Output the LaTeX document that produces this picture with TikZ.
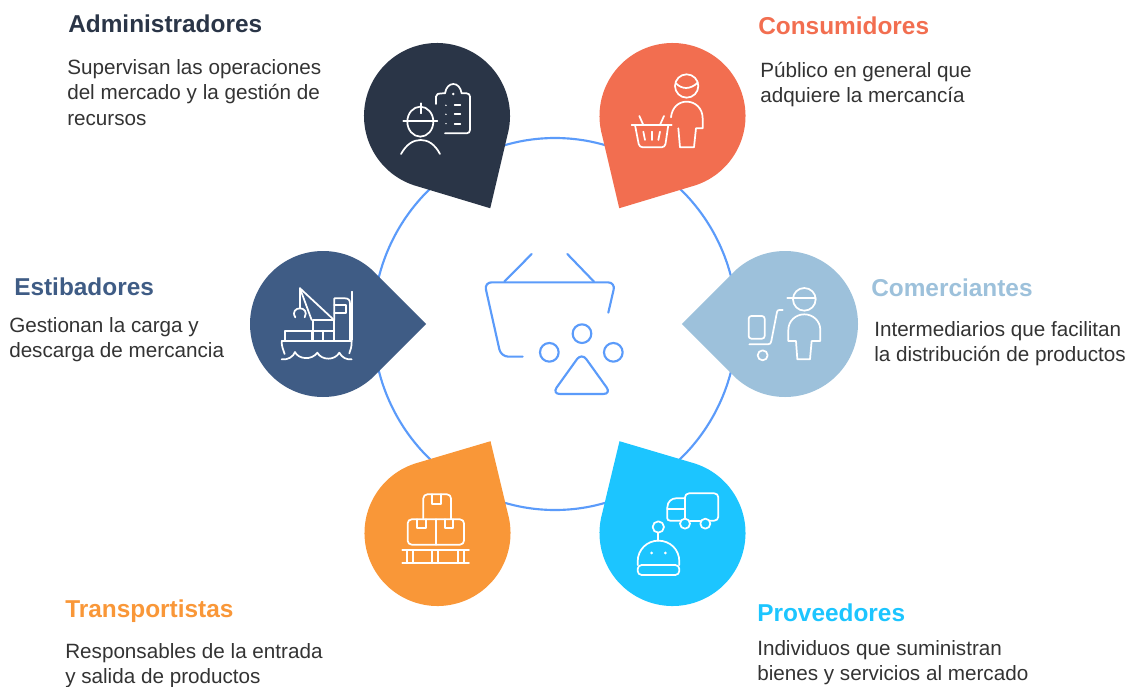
\documentclass[tikz,border=0pt]{standalone}
\usepackage{fontspec}
\setmainfont{Liberation Sans}
\usepackage{tikz}
\usetikzlibrary{calc}
\definecolor{admincol}{HTML}{2A3547}
\definecolor{conscol}{HTML}{F26E50}
\definecolor{estibcol}{HTML}{3F5C85}
\definecolor{comercol}{HTML}{9DC1DB}
\definecolor{transcol}{HTML}{F99738}
\definecolor{provcol}{HTML}{1CC5FF}
\definecolor{ringcol}{HTML}{5B9BFA}
\tikzstyle{heading} = [anchor=base west, inner sep=0pt, font=\fontsize{18.3}{22}\selectfont\bfseries]
\tikzstyle{blurb} = [anchor=north west, inner sep=0pt, align=left, text=black!80, font=\fontsize{15.5}{19.1}\selectfont]
\tikzstyle{glyph} = [draw=white, line width=1.3pt, line cap=round, line join=round]
\tikzstyle{hubline} = [draw=ringcol, line width=1.6pt, line cap=round, line join=round]
\newcommand{\droppin}[4]{\fill [#3] ($(#1)+(#2:#4)$) -- ($(#1)+(#2+45:73)$) arc [start angle=#2+45, delta angle=270, radius=73] -- cycle;}

\begin{document}
\begin{tikzpicture}[x=0.75pt, y=-0.75pt]
    \useasboundingbox (0,0) rectangle (1129,686);

    \coordinate (hub) at (555,324);
    \coordinate (admin) at (437,116);
    \coordinate (cons) at (672.5,116);
    \coordinate (estib) at (323,324);
    \coordinate (comer) at (785,324);
    \coordinate (trans) at (437.5,533);
    \coordinate (prov) at (672.5,533);

    \draw [hubline] (hub) ellipse [x radius=182, y radius=186];

    \droppin{admin}{60}{admincol}{106.5}
    \droppin{cons}{120}{conscol}{106.5}
    \droppin{estib}{0}{estibcol}{103.2}
    \droppin{comer}{180}{comercol}{103.2}
    \droppin{trans}{-60}{transcol}{106}
    \droppin{prov}{-120}{provcol}{106}

    \begin{scope}[shift={(470,240)}, scale=0.3333]
        \draw [hubline, rounded corners=5.5pt] (158,350) -- (93,350) -- (43,127) -- (436,127) -- (415,218);
        \draw [hubline] (103,125) -- (185,42);
        \draw [hubline] (372,125) -- (292,42);
        \draw [hubline] (336,281) circle (28);
        \draw [hubline] (238,337) circle (28);
        \draw [hubline] (430,337) circle (28);
        \draw [hubline, rounded corners=6pt] (335,338) -- (424,462) -- (246,462) -- cycle;
    \end{scope}

    \begin{scope}[shift={(350,30)}, scale=0.3333]
        \draw [glyph] (211,275) ellipse [x radius=39, y radius=45];
        \draw [glyph] (160,274) -- (262,274);
        \draw [glyph] (212,220) -- (212,250);
        \draw [glyph] (153,372) .. controls (170,342) and (190,330) .. (212,330) .. controls (234,330) and (254,342) .. (270,372);
        \draw [glyph] (258,222) -- (258,200) .. controls (258,192) and (262,190) .. (285,190) .. controls (288,172) and (298,162) .. (310,162) .. controls (322,162) and (332,172) .. (335,190) -- (350,190) .. controls (356,190) and (360,194) .. (360,200) -- (360,300) .. controls (360,306) and (356,310) .. (350,310) -- (285,310);
        \fill [white] (310,192) circle (4);
        \foreach \rowy in {226,253,281} {
            \fill [white] (288,\rowy) circle (2.5);
            \draw [glyph] (314,\rowy) -- (331,\rowy);
        }
    \end{scope}

    \begin{scope}[shift={(590,30)}, scale=0.3333]
        \draw [glyph] (290,168) circle (35);
        \draw [glyph] (258,160) .. controls (275,178) and (300,180) .. (323,158);
        \draw [glyph] (243,262) .. controls (246,232) and (266,215) .. (290,215) .. controls (316,215) and (338,235) .. (338,265) -- (338,295) -- (318,295) -- (312,352) -- (270,352) -- (265,295);
        \draw [glyph] (125,285) -- (245,285);
        \draw [glyph, rounded corners=2.5pt] (135,285) -- (148,352) -- (225,352) -- (235,285);
        \draw [glyph] (148,258) -- (160,285);
        \draw [glyph] (222,258) -- (210,285);
        \draw [glyph] (160,305) -- (165,330);
        \draw [glyph] (185,305) -- (185,330);
        \draw [glyph] (210,305) -- (205,330);
    \end{scope}

    \begin{scope}[shift={(240,240)}, scale=0.3333]
        \draw [glyph] (125,358) .. controls (145,360) and (160,350) .. (165,336) .. controls (175,358) and (215,362) .. (232,338) .. controls (245,362) and (285,362) .. (298,338) .. controls (305,352) and (320,360) .. (335,358);
        \draw [glyph] (125,305) .. controls (125,320) and (130,330) .. (134,342);
        \draw [glyph] (335,305) .. controls (335,320) and (332,330) .. (328,340);
        \draw [glyph] (125,303) -- (335,303);
        \draw [glyph] (135,303) -- (135,272) -- (215,272) -- (215,303);
        \draw [glyph] (218,303) -- (218,240) -- (283,240) -- (283,303);
        \draw [glyph] (218,272) -- (283,272);
        \draw [glyph] (250,272) -- (250,303);
        \draw [glyph] (283,240) -- (283,175) -- (315,175) .. controls (325,175) and (330,180) .. (330,190) -- (330,303);
        \draw [glyph] (283,195) -- (318,195) -- (318,218) -- (283,218);
        \draw [glyph] (336,155) -- (336,300);
        \draw [glyph] (180,145) -- (215,240);
        \draw [glyph] (180,145) -- (280,238);
        \draw [glyph] (180,145) -- (180,205);
        \draw [glyph] (166,232) .. controls (155,215) and (168,205) .. (180,205) .. controls (192,205) and (203,215) .. (194,232);
    \end{scope}

    \begin{scope}[shift={(670,240)}, scale=0.3333]
        \draw [glyph] (403,178) circle (34);
        \draw [glyph] (352,174) -- (437,174);
        \draw [glyph] (355,303) -- (355,270) .. controls (355,243) and (377,223) .. (403,223) .. controls (429,223) and (451,243) .. (451,270) -- (451,303) -- (425,303) -- (420,358) -- (382,358) -- (378,303) -- cycle;
        \draw [glyph, rounded corners=2pt] (236,228) rectangle (284,296);
        \draw [glyph] (338,210) -- (328,210) .. controls (324,210) and (322,212) .. (321,216) -- (304,303) .. controls (303,310) and (300,313) .. (294,313) -- (238,313);
        \draw [glyph] (278,346) circle (15);
    \end{scope}

    \begin{scope}[shift={(355,430)}, scale=0.3333]
        \draw [glyph, rounded corners=3pt] (205,268) -- (205,193) -- (288,193) -- (288,268);
        \draw [glyph] (232,193) -- (232,222) -- (258,222) -- (258,193);
        \draw [glyph, rounded corners=3pt] (158,268) rectangle (327,344);
        \draw [glyph] (242,268) -- (242,344);
        \draw [glyph] (185,268) -- (185,295) -- (212,295) -- (212,268);
        \draw [glyph] (270,268) -- (270,295) -- (295,295) -- (295,268);
        \draw [glyph] (142,360) -- (342,360);
        \draw [glyph] (142,400) -- (342,400);
        \foreach \postx in {155,175,232,250,308,328} {
            \draw [glyph] (\postx,360) -- (\postx,400);
        }
    \end{scope}

    \begin{scope}[shift={(590,430)}, scale=0.3333]
        \draw [glyph, rounded corners=3pt] (285,205) -- (285,190) -- (385,190) -- (385,272) -- (361,272);
        \draw [glyph] (300,272) -- (331,272);
        \draw [glyph] (270,272) -- (240,272) .. controls (235,272) and (232,269) .. (232,265) -- (232,232) .. controls (232,215) and (245,205) .. (258,205) -- (285,205) -- (285,266);
        \draw [glyph] (232,238) -- (285,238);
        \draw [glyph] (285,281) circle (15);
        \draw [glyph] (346,281) circle (15);
        \draw [glyph] (143,405) -- (143,395) .. controls (143,358) and (172,332) .. (205,332) .. controls (240,332) and (268,358) .. (268,395) -- (268,405);
        \draw [glyph, rounded corners=3pt] (143,405) rectangle (268,435);
        \draw [glyph] (205,308) -- (205,332);
        \draw [glyph] (205,291) circle (17);
        \fill [white] (185,369) circle (4.5);
        \fill [white] (226,369) circle (4.5);
    \end{scope}

    \node [heading, text=admincol] (adminT) at (68,32) {Administradores};
    \node [blurb] (adminD) at (67,59) {Supervisan las operaciones\\del mercado y la gestión de\\recursos};

    \node [heading, text=conscol] (consT) at (758,34) {Consumidores};
    \node [blurb] (consD) at (760,62) {Público en general que\\adquiere la mercancía};

    \node [heading, text=estibcol] (estibT) at (14,295) {Estibadores};
    \node [blurb] (estibD) at (9,317) {Gestionan la carga y\\descarga de mercancia};

    \node [heading, text=comercol] (comerT) at (871,296) {Comerciantes};
    \node [blurb] (comerD) at (874,321) {Intermediarios que facilitan\\la distribución de productos};

    \node [heading, text=transcol] (transT) at (65,617) {Transportistas};
    \node [blurb] (transD) at (65,643) {Responsables de la entrada\\y salida de productos};

    \node [heading, text=provcol] (provT) at (757,621) {Proveedores};
    \node [blurb] (provD) at (757,640) {Individuos que suministran\\bienes y servicios al mercado};
\end{tikzpicture}
\end{document}
